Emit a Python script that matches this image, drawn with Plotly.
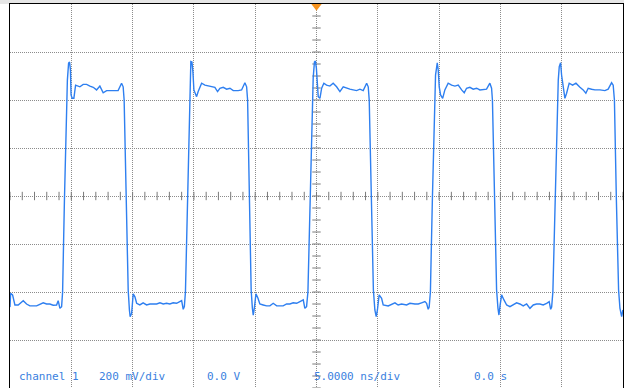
import numpy as np
import plotly.graph_objects as go

# ---- waveform samples (time in ns, voltage in mV) ----
t_start = [-25.00, -24.95, -24.79, -24.60, -24.33, -23.92, -23.65, -23.38, -22.83, -22.56,
           -22.29, -22.02, -21.75, -21.48, -21.20, -21.07, -20.93, -20.79]
v_start = [-463, -405, -412, -454, -454, -436, -450, -458, -458, -450,
           -445, -450, -450, -455, -454, -436, -468, -461]

t_high1 = [-20.71, -20.56, -20.40, -20.32, -20.22, -20.14, -20.07, -20.02, -19.93, -19.79,
           -19.65, -19.30, -19.03, -18.75, -18.48, -18.21, -17.94, -17.67, -17.40, -17.12,
           -16.58, -16.18, -15.90, -15.77]
v_high1 = [-400, -17, 317, 483, 554, 558, 525, 421, 407, 407,
           462, 455, 465, 465, 458, 453, 442, 458, 430, 439,
           439, 439, 470, 455]

t_low1 = [-15.69, -15.53, -15.36, -15.26, -15.20, -15.08, -14.95, -14.81, -14.67, -14.41,
          -14.14, -13.86, -13.59, -13.04, -12.77, -12.50, -12.23, -11.96, -11.69, -11.41,
          -11.14, -11.00, -10.87, -10.78]
v_low1 = [400, -17, -392, -475, -503, -489, -408, -420, -447, -454,
          -445, -454, -450, -450, -445, -450, -447, -450, -445, -447,
          -440, -436, -472, -461]

t_high2 = [-10.69, -10.53, -10.38, -10.30, -10.25, -10.16, -10.08, -10.00, -9.78, -9.65,
           -9.51, -9.37, -9.10, -8.83, -8.56, -8.29, -8.07, -7.88, -7.61, -7.33,
           -7.06, -6.79, -6.39, -6.11, -5.84, -5.70]
v_high2 = [-400, -17, 358, 504, 560, 558, 517, 442, 414, 435,
           455, 470, 462, 458, 455, 453, 435, 449, 453, 445,
           449, 439, 439, 442, 472, 455]

t_low2 = [-5.62, -5.47, -5.33, -5.23, -5.16, -5.07, -4.94, -4.78, -4.62, -4.35,
          -4.07, -3.80, -3.53, -3.25, -2.72, -2.44, -2.17, -1.90, -1.62, -1.35,
          -1.08, -0.95, -0.81]
v_low2 = [400, -17, -392, -467, -496, -467, -408, -425, -450, -454,
          -458, -458, -447, -458, -458, -450, -450, -445, -447, -440,
          -433, -468, -461]

t_high3 = [-0.70, -0.54, -0.38, -0.27, -0.17, -0.09, -0.01, 0.07, 0.14, 0.28,
           0.42, 0.60, 0.82, 1.09, 1.36, 1.64, 1.91, 2.18, 2.46, 2.72,
           2.99, 3.27, 3.54, 3.81, 4.09, 4.22]
v_high3 = [-400, -17, 358, 492, 558, 562, 533, 442, 414, 407,
           449, 470, 462, 458, 470, 455, 435, 455, 449, 445,
           442, 439, 445, 439, 470, 455]

t_low3 = [4.30, 4.46, 4.64, 4.76, 4.87, 4.97, 5.11, 5.31, 5.44, 5.85,
          6.13, 6.40, 6.66, 6.94, 7.35, 7.62, 8.03, 8.30, 8.57, 8.84,
          8.98, 9.11, 9.19]
v_low3 = [400, -17, -392, -475, -503, -475, -412, -426, -454, -458,
          -450, -445, -454, -450, -454, -447, -450, -450, -445, -440,
          -447, -472, -463]

t_high4 = [9.29, 9.45, 9.62, 9.71, 9.85, 9.93, 10.01, 10.12, 10.29, 10.47,
           10.74, 11.02, 11.29, 11.56, 11.84, 12.05, 12.24, 12.51, 12.78, 13.06,
           13.33, 13.60, 13.87, 14.14, 14.28]
v_high4 = [-400, -17, 358, 504, 555, 525, 455, 421, 407, 442,
           470, 462, 458, 462, 442, 430, 449, 453, 445, 449,
           442, 442, 445, 470, 449]

t_low4 = [14.35, 14.51, 14.69, 14.80, 14.88, 14.98, 15.10, 15.29, 15.51, 15.78,
          16.04, 16.32, 16.59, 16.86, 17.14, 17.41, 17.68, 17.95, 18.22, 18.49,
          18.77, 18.98, 19.10, 19.18]
v_low4 = [400, -17, -392, -467, -496, -454, -412, -433, -454, -461,
          -454, -445, -450, -458, -450, -468, -454, -450, -450, -454,
          -447, -440, -472, -463]

t_high5 = [19.28, 19.45, 19.61, 19.72, 19.80, 19.91, 19.99, 20.12, 20.26, 20.40,
           20.61, 20.89, 21.16, 21.49, 21.75, 21.97, 22.16, 22.44, 22.71, 23.12,
           23.52, 23.79, 24.07, 24.20]
v_high5 = [-400, -17, 358, 483, 539, 555, 504, 455, 407, 428,
           470, 462, 470, 453, 442, 428, 449, 445, 442, 442,
           439, 445, 472, 462]

t_end = [24.30, 24.46, 24.64, 24.75, 24.89, 24.99]
v_end = [400, -17, -392, -467, -503, -475]

# ---- screen settings ----
time_range = [-25, 25]          # ns (5 ns/div, 10 div)
volt_range = [-800, 800]        # mV (200 mV/div, 8 div)
status_texts = ["channel 1", "200 mV/div", "0.0 V", "5.0000 ns/div", "0.0 s"]
status_x = [0.011, 0.142, 0.318, 0.492, 0.754]

t_all = (t_start + t_high1 + t_low1 + t_high2 + t_low2 + t_high3 + t_low3
         + t_high4 + t_low4 + t_high5 + t_end)
v_all = (v_start + v_high1 + v_low1 + v_high2 + v_low2 + v_high3 + v_low3
         + v_high4 + v_low4 + v_high5 + v_end)

TRACE = "#2e7ff0"
TEXT = "#3b7fe0"
GRID = "#8c8c8c"

fig = go.Figure()

# centre-axis minor ticks (graticule)
xt = np.arange(-25, 25.001, 1.0)
yt = np.arange(-800, 800.001, 50.0)
fig.add_trace(go.Scatter(x=xt, y=np.zeros_like(xt), mode="markers",
                         marker=dict(symbol="line-ns", size=6,
                                     line=dict(color="#7a7a7a", width=1)),
                         hoverinfo="skip", showlegend=False))
fig.add_trace(go.Scatter(x=np.zeros_like(yt), y=yt, mode="markers",
                         marker=dict(symbol="line-ew", size=6,
                                     line=dict(color="#7a7a7a", width=1)),
                         hoverinfo="skip", showlegend=False))

# waveform
fig.add_trace(go.Scatter(x=t_all, y=v_all, mode="lines",
                         line=dict(color=TRACE, width=1.4),
                         showlegend=False))

# trigger position marker
fig.add_trace(go.Scatter(x=[0], y=[793], mode="markers",
                         marker=dict(symbol="triangle-down", size=10, color="#f7931e"),
                         cliponaxis=False, showlegend=False, hoverinfo="skip"))

for txt, xp in zip(status_texts, status_x):
    fig.add_annotation(text=txt, xref="paper", yref="paper", x=xp, y=0.031,
                       xanchor="left", yanchor="middle", showarrow=False,
                       font=dict(family="DejaVu Sans Mono", size=11, color=TEXT))

fig.add_shape(type="rect", xref="paper", yref="paper",
              x0=-10 / 613, x1=1 + 1 / 613, y0=1, y1=1 + 4 / 384,
              fillcolor="#e6e6e6", line=dict(width=0), layer="below")

fig.update_xaxes(range=time_range, dtick=5, tick0=0, showticklabels=False, ticks="",
                 showgrid=True, gridcolor=GRID, gridwidth=1, griddash="1px,1px",
                 zeroline=False, showline=True, mirror=True, linecolor="#000000",
                 linewidth=1, fixedrange=True)
fig.update_yaxes(range=volt_range, dtick=200, tick0=0, showticklabels=False, ticks="",
                 showgrid=True, gridcolor=GRID, gridwidth=1, griddash="1px,1px",
                 zeroline=False, showline=True, mirror=True, linecolor="#000000",
                 linewidth=1, fixedrange=True)

fig.update_layout(width=624, height=388, margin=dict(l=10, r=1, t=4, b=0),
                  paper_bgcolor="white", plot_bgcolor="white",
                  showlegend=False)

fig.write_html("out.html", config={"displayModeBar": False},
               post_script="document.body.style.margin='0';"
                           "document.body.style.overflow='hidden';")
